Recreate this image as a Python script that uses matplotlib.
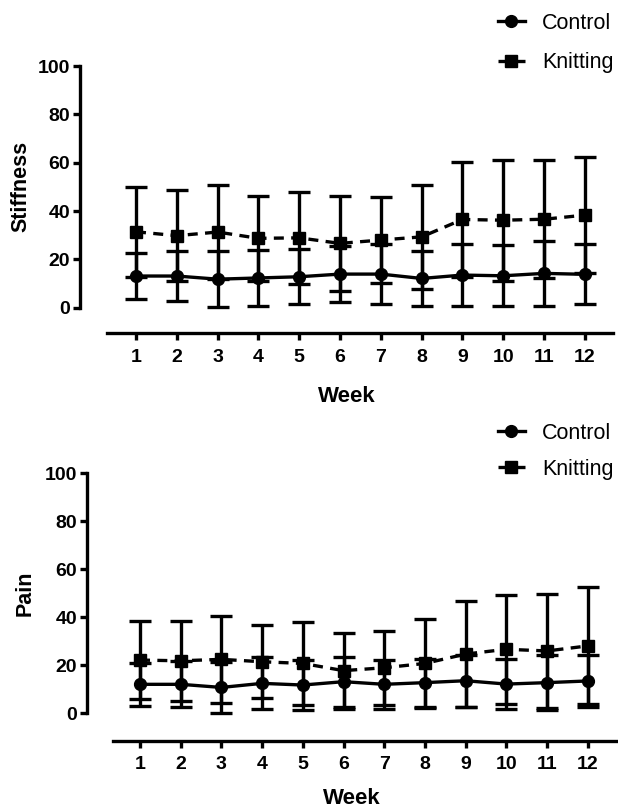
import numpy as np
import matplotlib
matplotlib.use('Agg')
import matplotlib.pyplot as plt
from matplotlib.lines import Line2D

plt.rcParams['font.family'] = ['Liberation Sans', 'DejaVu Sans']

weeks = np.arange(1, 13)
week_labels = [str(w) for w in weeks]

# stiffness (mean, sd)
stiff_control = [13.1, 13.1, 11.8, 12.3, 12.8, 13.9, 13.9, 12.1, 13.5, 13.2, 14.2, 13.8]
stiff_control_sd = [9.6, 10.4, 11.7, 11.7, 11.3, 11.7, 12.4, 11.5, 12.9, 12.7, 13.4, 12.4]
stiff_knit = [31.4, 29.8, 31.3, 28.7, 28.9, 26.6, 28.0, 29.3, 36.5, 36.2, 36.6, 38.3]
stiff_knit_sd = [18.6, 18.8, 19.4, 17.6, 19.0, 19.5, 17.9, 21.4, 23.8, 25.1, 24.4, 24.1]

# pain (mean, sd)
pain_control = [12.1, 12.1, 10.8, 12.5, 11.8, 13.2, 12.1, 12.8, 13.6, 12.2, 12.8, 13.5]
pain_control_sd = [8.9, 9.6, 10.8, 10.8, 10.4, 10.4, 10.1, 10.0, 10.8, 10.5, 11.4, 10.8]
pain_knit = [22.2, 21.9, 22.5, 21.5, 20.8, 17.8, 19.0, 20.8, 24.7, 26.7, 26.0, 28.1]
pain_knit_sd = [16.4, 16.6, 18.2, 15.3, 17.4, 15.8, 15.4, 18.4, 22.1, 22.6, 23.7, 24.4]

LW = 2.4
DASH = (0, (3, 2.2))

fig = plt.figure(figsize=(6.18, 8.09), dpi=100)


def panel(rect, ylabel, ctrl, ctrl_sd, knit, knit_sd, ylo, xlim, xbounds,
          ylab_x, xlab_pad, leg_y, leg_space):
    ax = fig.add_axes(rect)
    ax.errorbar(weeks, knit, yerr=knit_sd, color='black', lw=LW, ls=DASH,
                marker='s', ms=8, capsize=8, elinewidth=LW, capthick=LW, zorder=3)
    ax.errorbar(weeks, ctrl, yerr=ctrl_sd, color='black', lw=LW, ls='-',
                marker='o', ms=8.5, capsize=8, elinewidth=LW, capthick=LW, zorder=4)
    ax.set_ylim(ylo, 100)
    ax.set_xlim(*xlim)
    ax.spines['left'].set_bounds(0, 100)
    ax.spines['bottom'].set_bounds(*xbounds)
    for s in ['top', 'right']:
        ax.spines[s].set_visible(False)
    for s in ['left', 'bottom']:
        ax.spines[s].set_linewidth(LW)
    ax.set_yticks([0, 20, 40, 60, 80, 100])
    ax.set_xticks(weeks)
    ax.set_xticklabels(week_labels)
    ax.tick_params(width=LW, length=5, labelsize=14)
    ax.tick_params(axis='x', pad=6)
    ax.tick_params(axis='y', pad=2)
    for t in ax.get_xticklabels() + ax.get_yticklabels():
        t.set_fontweight('bold')
    ax.set_ylabel(ylabel, fontsize=15.5, fontweight='bold')
    # centre the label on the 0-100 spine
    mid = (50 - ylo) / (100 - ylo)
    ax.yaxis.set_label_coords(ylab_x, mid)
    ax.set_xlabel('Week', fontsize=16, fontweight='bold', labelpad=xlab_pad)
    handles = [
        Line2D([], [], color='black', lw=LW, ls='-', marker='o', ms=8.5),
        Line2D([], [], color='black', lw=LW, ls=DASH, marker='s', ms=8),
    ]
    ax.legend(handles, ['Control', 'Knitting'], loc='upper right', frameon=False,
              fontsize=15.5, bbox_to_anchor=(1.01, leg_y), bbox_transform=fig.transFigure,
              borderpad=0, labelspacing=leg_space, handlelength=1.25, handletextpad=0.8)
    return ax


panel([0.1294, 0.588, 0.8625, 0.3304], 'Stiffness', stiff_control, stiff_control_sd,
      stiff_knit, stiff_knit_sd, -10.6, (-0.373, 12.69), (0.29, 12.69),
      -0.0905, 15, 1 - 2 / 809, 0.85)
panel([0.1408, 0.0844, 0.8576, 0.3305], 'Pain', pain_control, pain_control_sd,
      pain_knit, pain_knit_sd, -11.4, (-0.302, 12.72), (0.33, 12.72),
      -0.0965, 11, 1 - 412 / 809, 0.7)

fig.savefig('out.png', dpi=100)
